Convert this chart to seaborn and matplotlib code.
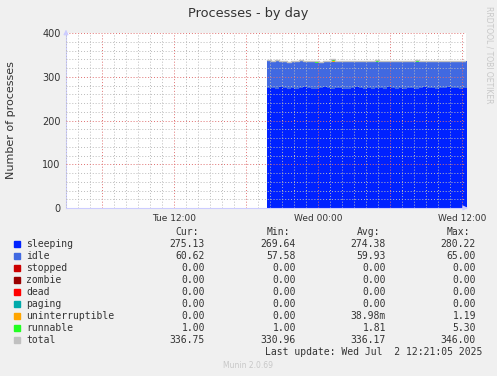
import numpy as np
import pandas as pd
import matplotlib
matplotlib.use("Agg")
import matplotlib.pyplot as plt
import seaborn as sns
from matplotlib.patches import Rectangle
from matplotlib.ticker import FixedLocator, MultipleLocator, FuncFormatter

# ---------------- data ----------------
# sample times in hours since Tue 00:00 (20-minute steps)
start_hour = 19.75
step_hour = 1.0 / 3.0

sleeping = [275, 274, 273, 276, 274, 272, 275, 273, 274, 277, 275, 273, 272, 274, 276, 274, 273,
            275, 274, 272, 273, 275, 276, 274, 273, 274, 272, 275, 274, 273, 276, 275, 273, 274,
            272, 274, 275, 273, 274, 276, 275, 274, 273, 275, 274, 276, 275, 274, 273, 275, 275.13]
idle = [61, 60, 62, 59, 60, 61, 59, 60, 62, 58, 60, 61, 60, 59, 58, 60, 61, 59, 60, 62, 61, 59,
        58, 60, 61, 60, 62, 59, 60, 61, 58, 59, 61, 60, 62, 60, 59, 61, 60, 58, 59, 60, 61, 59,
        60, 58, 59, 60, 61, 60, 60.62]
uninterruptible = [0, 0, 0, 0, 0, 0, 0, 0, 0, 0, 0, 0, 0, 0, 0, 0, 1, 0, 0, 0, 0, 0, 0, 0, 0, 0,
                   0, 0, 0, 0, 0, 0, 0, 0, 0, 0, 0, 0, 0, 0, 0, 0, 0, 0, 0, 0, 0, 0, 0, 0, 0]
runnable = [2, 1, 3, 1, 2, 1, 1, 4, 2, 1, 2, 1, 3, 1, 1, 2, 5, 1, 2, 1, 1, 3, 2, 1, 1, 2, 1, 4,
            1, 2, 1, 3, 1, 1, 2, 1, 2, 5, 1, 1, 3, 1, 2, 1, 1, 2, 3, 1, 2, 1, 1]

legend_names = ["sleeping", "idle", "stopped", "zombie", "dead", "paging",
                "uninterruptible", "runnable", "total"]
legend_colors = ["#0022FF", "#4169E1", "#CC0000", "#990000", "#FF0000", "#00AAAA",
                 "#FFA500", "#22FF22", "#C0C0C0"]
cur_vals = ["275.13", "60.62", "0.00", "0.00", "0.00", "0.00", "0.00", "1.00", "336.75"]
min_vals = ["269.64", "57.58", "0.00", "0.00", "0.00", "0.00", "0.00", "1.00", "330.96"]
avg_vals = ["274.38", "59.93", "0.00", "0.00", "0.00", "0.00", "38.98m", "1.81", "336.17"]
max_vals = ["280.22", "65.00", "0.00", "0.00", "0.00", "0.00", "1.19", "5.30", "346.00"]

x_tick_pos = [12, 24, 36]
x_tick_labels = ["Tue 12:00", "Wed 00:00", "Wed 12:00"]
y_ticks = [0, 100, 200, 300, 400]

# ---------------- build frame ----------------
n = len(sleeping)
hours = start_hour + step_hour * np.arange(n)
df = pd.DataFrame({"hour": hours, "sleeping": sleeping, "idle": idle,
                   "uninterruptible": uninterruptible, "runnable": runnable})
df["total"] = df[["sleeping", "idle", "uninterruptible", "runnable"]].sum(axis=1)

# ---------------- figure ----------------
sns.set_style("white")
plt.rcParams["font.family"] = ["DejaVu Sans"]
W, H = 497, 376
fig = plt.figure(figsize=(W / 100, H / 100), dpi=100, facecolor="#F0F0F0")
ax = fig.add_axes([66 / W, 1 - 208 / H, 400 / W, 175 / H])
ax.set_facecolor("white")

stack_cols = ["sleeping", "idle", "uninterruptible", "runnable"]
stack_colors = ["#0022FF", "#4169E1", "#FFA500", "#22FF22"]
base = np.zeros(n)
for col, c in zip(stack_cols, stack_colors):
    top = base + df[col].values
    ax.fill_between(df["hour"], base, top, step="post", color=c, linewidth=0, zorder=1)
    base = top

sns.lineplot(data=df, x="hour", y="total", ax=ax, color="#C0C0C0", lw=1.0,
             drawstyle="steps-post", zorder=3, legend=False)

ax.set_xlim(3, 36.33)
ax.set_ylim(0, 400)

# grid
ax.xaxis.set_major_locator(FixedLocator([6, 12, 18, 24, 30, 36]))
ax.xaxis.set_minor_locator(MultipleLocator(1))
ax.yaxis.set_major_locator(FixedLocator(y_ticks))
ax.yaxis.set_minor_locator(MultipleLocator(20))
lbl = dict(zip(x_tick_pos, x_tick_labels))
ax.xaxis.set_major_formatter(FuncFormatter(lambda v, p: lbl.get(int(round(v)), "")))
ax.set_axisbelow(False)
ax.grid(which="minor", color="#BBBBBB", linestyle=(0, (1, 2)), linewidth=0.7)
ax.grid(which="major", color="#E07070", linestyle=(0, (1, 2)), linewidth=0.7)
ax.tick_params(which="both", length=0, labelsize=6.5, colors="#333333", pad=4)
ax.tick_params(axis="y", labelsize=7)

for s in ["top", "right"]:
    ax.spines[s].set_visible(False)
for s in ["left", "bottom"]:
    ax.spines[s].set_color("#CCCCFF")
    ax.spines[s].set_linewidth(0.8)
ax.annotate("", xy=(0, 1.035), xytext=(0, 0.98), xycoords="axes fraction",
            arrowprops=dict(arrowstyle="-|>", color="#CCCCFF", lw=0.8, mutation_scale=7))
ax.annotate("", xy=(1.012, 0), xytext=(0.99, 0), xycoords="axes fraction",
            arrowprops=dict(arrowstyle="-|>", color="#CCCCFF", lw=0.8, mutation_scale=7))

ax.set_xlabel("")
ax.set_ylabel("Number of processes", fontsize=8, color="#333333", labelpad=19)

# title and side texts
fig.text(248 / W, 1 - 13 / H, "Processes - by day", ha="center", va="center",
         fontsize=9.3, color="#333333")
fig.text(489 / W, 1 - 55 / H, "RRDTOOL / TOBI OETIKER", rotation=270, ha="center",
         va="center", fontsize=5.5, color="#C8C8C8")
fig.text(248 / W, 1 - 365 / H, "Munin 2.0.69", ha="center", va="center",
         fontsize=5.5, color="#C8C8C8")

# legend table
mono = dict(family="DejaVu Sans Mono", fontsize=7, color="#333333", va="center")
hdr_y = 232
for xr, t in [(199, "Cur:"), (290, "Min:"), (380, "Avg:"), (470, "Max:")]:
    fig.text(xr / W, 1 - hdr_y / H, t, ha="right", **mono)
for i, name in enumerate(legend_names):
    y = 244 + 12 * i
    fig.patches.append(Rectangle((14 / W, 1 - (y + 3) / H), 6 / W, 6 / H,
                                 transform=fig.transFigure, color=legend_colors[i],
                                 figure=fig))
    fig.text(26 / W, 1 - y / H, name, ha="left", **mono)
    fig.text(205 / W, 1 - y / H, cur_vals[i], ha="right", **mono)
    fig.text(296 / W, 1 - y / H, min_vals[i], ha="right", **mono)
    fig.text(386 / W, 1 - y / H, avg_vals[i], ha="right", **mono)
    fig.text(476 / W, 1 - y / H, max_vals[i], ha="right", **mono)
fig.text(482 / W, 1 - 352 / H, "Last update: Wed Jul  2 12:21:05 2025", ha="right", **mono)

fig.savefig("out.png", dpi=100, facecolor=fig.get_facecolor())
